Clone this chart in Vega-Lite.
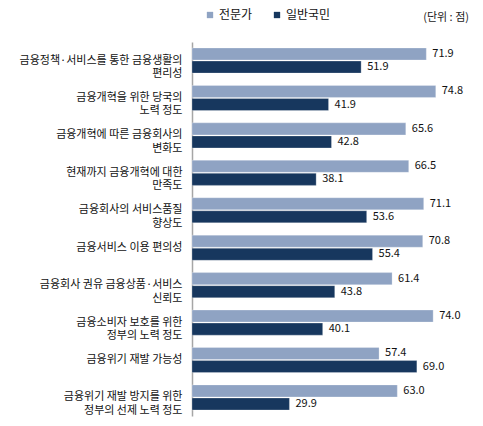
{
  "$schema": "https://vega.github.io/schema/vega-lite/v6.json",
  "description": "금융개혁 관련 항목별 전문가와 일반국민 평가 점수",
  "autosize": {"type": "none"},
  "padding": {"left": 192, "top": 42, "right": 14, "bottom": 10},
  "width": 277,
  "height": 374,
  "title": {
    "text": "(단위 : 점)",
    "anchor": "end",
    "frame": "group",
    "fontSize": 11,
    "fontWeight": "normal",
    "font": "Noto Sans CJK KR",
    "color": "#222222",
    "offset": -14
  },
  "data": {
    "values": [
      {"item": "금융정책·서비스를 통한 금융생활의|편리성", "group": "전문가", "score": 71.9},
      {"item": "금융정책·서비스를 통한 금융생활의|편리성", "group": "일반국민", "score": 51.9},
      {"item": "금융개혁을 위한 당국의|노력 정도", "group": "전문가", "score": 74.8},
      {"item": "금융개혁을 위한 당국의|노력 정도", "group": "일반국민", "score": 41.9},
      {"item": "금융개혁에 따른 금융회사의|변화도", "group": "전문가", "score": 65.6},
      {"item": "금융개혁에 따른 금융회사의|변화도", "group": "일반국민", "score": 42.8},
      {"item": "현재까지 금융개혁에 대한|만족도", "group": "전문가", "score": 66.5},
      {"item": "현재까지 금융개혁에 대한|만족도", "group": "일반국민", "score": 38.1},
      {"item": "금융회사의 서비스품질|향상도", "group": "전문가", "score": 71.1},
      {"item": "금융회사의 서비스품질|향상도", "group": "일반국민", "score": 53.6},
      {"item": "금융서비스 이용 편의성|", "group": "전문가", "score": 70.8},
      {"item": "금융서비스 이용 편의성|", "group": "일반국민", "score": 55.4},
      {"item": "금융회사 권유 금융상품·서비스|신뢰도", "group": "전문가", "score": 61.4},
      {"item": "금융회사 권유 금융상품·서비스|신뢰도", "group": "일반국민", "score": 43.8},
      {"item": "금융소비자 보호를 위한|정부의 노력 정도", "group": "전문가", "score": 74.0},
      {"item": "금융소비자 보호를 위한|정부의 노력 정도", "group": "일반국민", "score": 40.1},
      {"item": "금융위기 재발 가능성|", "group": "전문가", "score": 57.4},
      {"item": "금융위기 재발 가능성|", "group": "일반국민", "score": 69.0},
      {"item": "금융위기 재발 방지를 위한|정부의 선제 노력 정도", "group": "전문가", "score": 63.0},
      {"item": "금융위기 재발 방지를 위한|정부의 선제 노력 정도", "group": "일반국민", "score": 29.9}
    ]
  },
  "encoding": {
    "y": {
      "field": "item",
      "type": "nominal",
      "sort": null,
      "scale": {"paddingInner": 0.33, "paddingOuter": 0.16},
      "axis": {
        "title": null,
        "ticks": false,
        "domainColor": "#A6A6A6",
        "domainWidth": 1.5,
        "labelExpr": "split(datum.label, '|')",
        "labelFont": "Noto Sans CJK KR",
        "labelFontSize": 11,
        "labelColor": "#111111",
        "labelLineHeight": 13.5,
        "labelPadding": 10,
        "labelLimit": 200
      }
    },
    "yOffset": {
      "field": "group",
      "type": "nominal",
      "sort": ["전문가", "일반국민"],
      "scale": {"paddingInner": 0.08}
    },
    "x": {
      "field": "score",
      "type": "quantitative",
      "scale": {"domain": [0, 85]},
      "axis": null
    }
  },
  "layer": [
    {
      "mark": {"type": "bar", "stroke": "#FFFFFF", "strokeWidth": 0.5, "strokeOpacity": 0.5},
      "encoding": {
        "color": {
          "field": "group",
          "type": "nominal",
          "scale": {"domain": ["전문가", "일반국민"], "range": ["#8FA3C3", "#17375E"]},
          "legend": {
            "title": null,
            "orient": "none",
            "direction": "horizontal",
            "legendX": 12,
            "legendY": -33,
            "symbolType": "square",
            "symbolSize": 40,
            "symbolStrokeWidth": 0,
            "labelFont": "Noto Sans CJK KR",
            "labelFontSize": 12,
            "labelColor": "#111111",
            "labelOffset": 3,
            "columnPadding": 18
          }
        }
      }
    },
    {
      "mark": {
        "type": "text",
        "align": "left",
        "baseline": "middle",
        "dx": 6,
        "font": "Noto Sans CJK KR",
        "fontSize": 11,
        "color": "#111111"
      },
      "encoding": {
        "text": {"field": "score", "type": "quantitative", "format": ".1f"}
      }
    }
  ],
  "config": {
    "view": {"stroke": null},
    "background": "#FFFFFF"
  }
}
